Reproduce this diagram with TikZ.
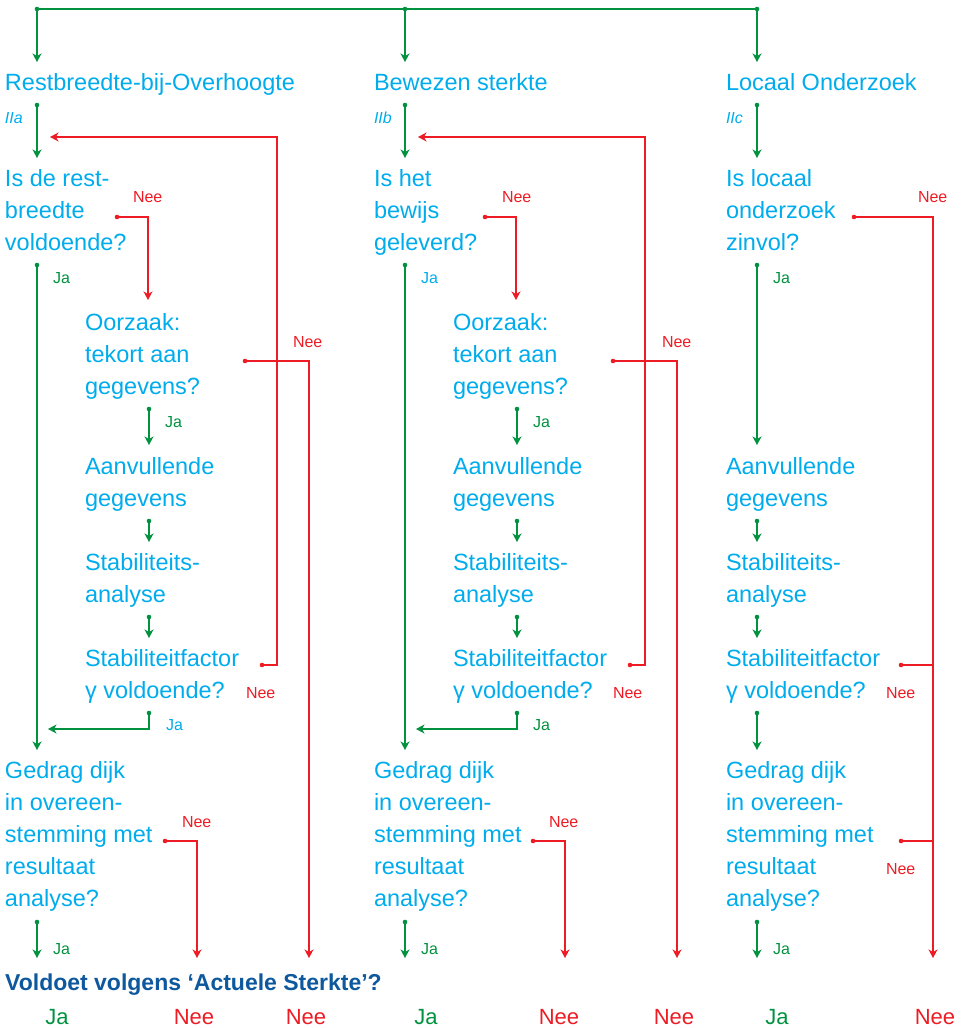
\documentclass[tikz,border=0pt]{standalone}
\usepackage{fontspec}
\setmainfont{Liberation Sans}
\usetikzlibrary{arrows.meta}
\definecolor{ccyan}{RGB}{0,172,236}
\definecolor{cgreen}{RGB}{0,146,63}
\definecolor{cred}{RGB}{237,28,36}
\definecolor{cblue}{RGB}{14,88,158}
\tikzset{
  box/.style={anchor=north west, inner sep=0pt, outer sep=0pt, align=left, text=ccyan, font=\fontsize{23.5}{32}\selectfont},
  small/.style={anchor=base west, inner sep=0pt, outer sep=0pt, font=\fontsize{16}{18}\selectfont},
  roman/.style={anchor=base west, inner sep=0pt, outer sep=0pt, text=ccyan, font=\fontsize{16}{18}\selectfont\itshape},
  final/.style={anchor=base, inner sep=0pt, outer sep=0pt, font=\fontsize{22}{26}\selectfont},
  gline/.style={draw=cgreen, line width=1.3pt},
  rline/.style={draw=cred, line width=1.3pt},
  tip/.style={-{Stealth[length=8.5pt,width=9pt,inset=2.5pt]}},
}
\begin{document}
\begin{tikzpicture}[x=1pt,y=-1pt]
\useasboundingbox (0,0) rectangle (962,1028);

% ---------- column texts ----------
\node[box] (a0) at (5,67.6) {\strut Restbreedte-bij-Overhoogte};
\node[roman] (a0r) at (5,123) {IIa};
\node[box] (a1) at (5,163.6) {\strut Is de rest-\\breedte\\voldoende?};
\node[box] (a2) at (85,307.6) {\strut Oorzaak:\\tekort aan\\gegevens?};
\node[box] (a3) at (85,451.6) {\strut Aanvullende\\gegevens};
\node[box] (a4) at (85,547.6) {\strut Stabiliteits-\\analyse};
\node[box] (a5) at (85,643.6) {\strut Stabiliteitfactor\\γ voldoende?};
\node[box] (a6) at (5,755.6) {\strut Gedrag dijk\\in overeen-\\stemming met\\resultaat\\analyse?};

\node[box] (b0) at (374,67.6) {\strut Bewezen sterkte};
\node[roman] (b0r) at (374,123) {IIb};
\node[box] (b1) at (374,163.6) {\strut Is het\\bewijs\\geleverd?};
\node[box] (b2) at (453,307.6) {\strut Oorzaak:\\tekort aan\\gegevens?};
\node[box] (b3) at (453,451.6) {\strut Aanvullende\\gegevens};
\node[box] (b4) at (453,547.6) {\strut Stabiliteits-\\analyse};
\node[box] (b5) at (453,643.6) {\strut Stabiliteitfactor\\γ voldoende?};
\node[box] (b6) at (374,755.6) {\strut Gedrag dijk\\in overeen-\\stemming met\\resultaat\\analyse?};

\node[box] (c0) at (726,67.6) {\strut Locaal Onderzoek};
\node[roman] (c0r) at (726,123) {IIc};
\node[box] (c1) at (726,163.6) {\strut Is locaal\\onderzoek\\zinvol?};
\node[box] (c3) at (726,451.6) {\strut Aanvullende\\gegevens};
\node[box] (c4) at (726,547.6) {\strut Stabiliteits-\\analyse};
\node[box] (c5) at (726,643.6) {\strut Stabiliteitfactor\\γ voldoende?};
\node[box] (c6) at (726,755.6) {\strut Gedrag dijk\\in overeen-\\stemming met\\resultaat\\analyse?};

% ---------- small labels ----------
\node[small,text=cred]   (la1) at (133,202) {Nee};
\node[small,text=cgreen] (la2) at (53,283) {Ja};
\node[small,text=cred]   (la3) at (293,347) {Nee};
\node[small,text=cgreen] (la4) at (165,427) {Ja};
\node[small,text=cred]   (la5) at (246,698) {Nee};
\node[small,text=ccyan]  (la6) at (166,730) {Ja};
\node[small,text=cred]   (la7) at (182,827) {Nee};
\node[small,text=cgreen] (la8) at (53,954) {Ja};

\node[small,text=cred]   (lb1) at (502,202) {Nee};
\node[small,text=ccyan]  (lb2) at (421,283) {Ja};
\node[small,text=cred]   (lb3) at (662,347) {Nee};
\node[small,text=cgreen] (lb4) at (533,427) {Ja};
\node[small,text=cred]   (lb5) at (613,698) {Nee};
\node[small,text=cgreen] (lb6) at (533,730) {Ja};
\node[small,text=cred]   (lb7) at (549,827) {Nee};
\node[small,text=cgreen] (lb8) at (421,954) {Ja};

\node[small,text=cred]   (lc1) at (918,202) {Nee};
\node[small,text=cgreen] (lc2) at (773,283) {Ja};
\node[small,text=cred]   (lc5) at (886,698) {Nee};
\node[small,text=cred]   (lc7) at (886,874) {Nee};
\node[small,text=cgreen] (lc8) at (773,954) {Ja};

% ---------- title and outcomes ----------
\node[anchor=base west, inner sep=0pt, text=cblue, font=\bfseries\fontsize{23}{26}\selectfont] (title) at (5,990) {Voldoet volgens ‘Actuele Sterkte’?};
\node[final,text=cgreen] (f1) at (57,1024) {Ja};
\node[final,text=cred]   (f2) at (194,1024) {Nee};
\node[final,text=cred]   (f3) at (306,1024) {Nee};
\node[final,text=cgreen] (f4) at (426,1024) {Ja};
\node[final,text=cred]   (f5) at (559,1024) {Nee};
\node[final,text=cred]   (f6) at (674,1024) {Nee};
\node[final,text=cgreen] (f7) at (777,1024) {Ja};
\node[final,text=cred]   (f8) at (935,1024) {Nee};

% ---------- connectors, columns a and b ----------
\foreach \c/\dx in {a/0,b/368} {
  \coordinate (\c-s0) at ({37+\dx},9);
  \coordinate (\c-e0) at ({37+\dx},62);
  \coordinate (\c-s1) at ({37+\dx},105);
  \coordinate (\c-e1) at ({37+\dx},158);
  \coordinate (\c-s2) at ({37+\dx},265);
  \coordinate (\c-e2) at ({37+\dx},750);
  \coordinate (\c-s3) at ({149+\dx},409);
  \coordinate (\c-e3) at ({149+\dx},445);
  \coordinate (\c-s4) at ({149+\dx},521);
  \coordinate (\c-e4) at ({149+\dx},542);
  \coordinate (\c-s5) at ({149+\dx},617);
  \coordinate (\c-e5) at ({149+\dx},638);
  \coordinate (\c-s6) at ({149+\dx},713);
  \coordinate (\c-e6) at ({48+\dx},729);
  \coordinate (\c-s7) at ({37+\dx},922);
  \coordinate (\c-e7) at ({37+\dx},958);
  \coordinate (\c-r1s) at ({117+\dx},217);
  \coordinate (\c-r1e) at ({148+\dx},300);
  \coordinate (\c-r2s) at ({262+\dx},665);
  \coordinate (\c-r2m) at ({277+\dx},137);
  \coordinate (\c-r2e) at ({50+\dx},137);
  \coordinate (\c-r3s) at ({245+\dx},361);
  \coordinate (\c-r3e) at ({309+\dx},958);
  \coordinate (\c-r4s) at ({165+\dx},841);
  \coordinate (\c-r4e) at ({197+\dx},958);
  \draw[gline,tip] (\c-s0) -- (\c-e0);
  \draw[gline,tip] (\c-s1) -- (\c-e1);
  \draw[gline,tip] (\c-s2) -- (\c-e2);
  \draw[gline,tip] (\c-s3) -- (\c-e3);
  \draw[gline,tip] (\c-s4) -- (\c-e4);
  \draw[gline,tip] (\c-s5) -- (\c-e5);
  \draw[gline,tip] (\c-s6) |- (\c-e6);
  \draw[gline,tip] (\c-s7) -- (\c-e7);
  \draw[rline,tip] (\c-r1s) -| (\c-r1e);
  \draw[rline,tip] (\c-r2s) -| (\c-r2m) -- (\c-r2e);
  \draw[rline,tip] (\c-r3s) -| (\c-r3e);
  \draw[rline,tip] (\c-r4s) -| (\c-r4e);
  \foreach \p in {s0,s1,s2,s3,s4,s5,s6,s7} {\fill[cgreen] (\c-\p) circle (2.3pt);}
  \foreach \p in {r1s,r2s,r3s,r4s} {\fill[cred] (\c-\p) circle (2.3pt);}
}

% ---------- connectors, column c ----------
\coordinate (c-s0) at (757,9);
\coordinate (c-e0) at (757,62);
\coordinate (c-s1) at (757,105);
\coordinate (c-e1) at (757,158);
\coordinate (c-s2) at (757,265);
\coordinate (c-e2) at (757,445);
\coordinate (c-s4) at (757,521);
\coordinate (c-e4) at (757,542);
\coordinate (c-s5) at (757,617);
\coordinate (c-e5) at (757,638);
\coordinate (c-s6) at (757,713);
\coordinate (c-e6) at (757,750);
\coordinate (c-s7) at (757,922);
\coordinate (c-e7) at (757,958);
\coordinate (c-r1s) at (854,217);
\coordinate (c-r1e) at (933,958);
\coordinate (c-r2s) at (901,665);
\coordinate (c-r2e) at (933,665);
\coordinate (c-r3s) at (901,841);
\coordinate (c-r3e) at (933,841);

\draw[gline] (a-s0) -- (c-s0);
\draw[gline,tip] (c-s0) -- (c-e0);
\draw[gline,tip] (c-s1) -- (c-e1);
\draw[gline,tip] (c-s2) -- (c-e2);
\draw[gline,tip] (c-s4) -- (c-e4);
\draw[gline,tip] (c-s5) -- (c-e5);
\draw[gline,tip] (c-s6) -- (c-e6);
\draw[gline,tip] (c-s7) -- (c-e7);
\draw[rline,tip] (c-r1s) -| (c-r1e);
\draw[rline] (c-r2s) -- (c-r2e);
\draw[rline] (c-r3s) -- (c-r3e);
\foreach \p in {s0,s1,s2,s4,s5,s6,s7} {\fill[cgreen] (c-\p) circle (2.3pt);}
\foreach \p in {r1s,r2s,r3s} {\fill[cred] (c-\p) circle (2.3pt);}
\end{tikzpicture}
\end{document}
